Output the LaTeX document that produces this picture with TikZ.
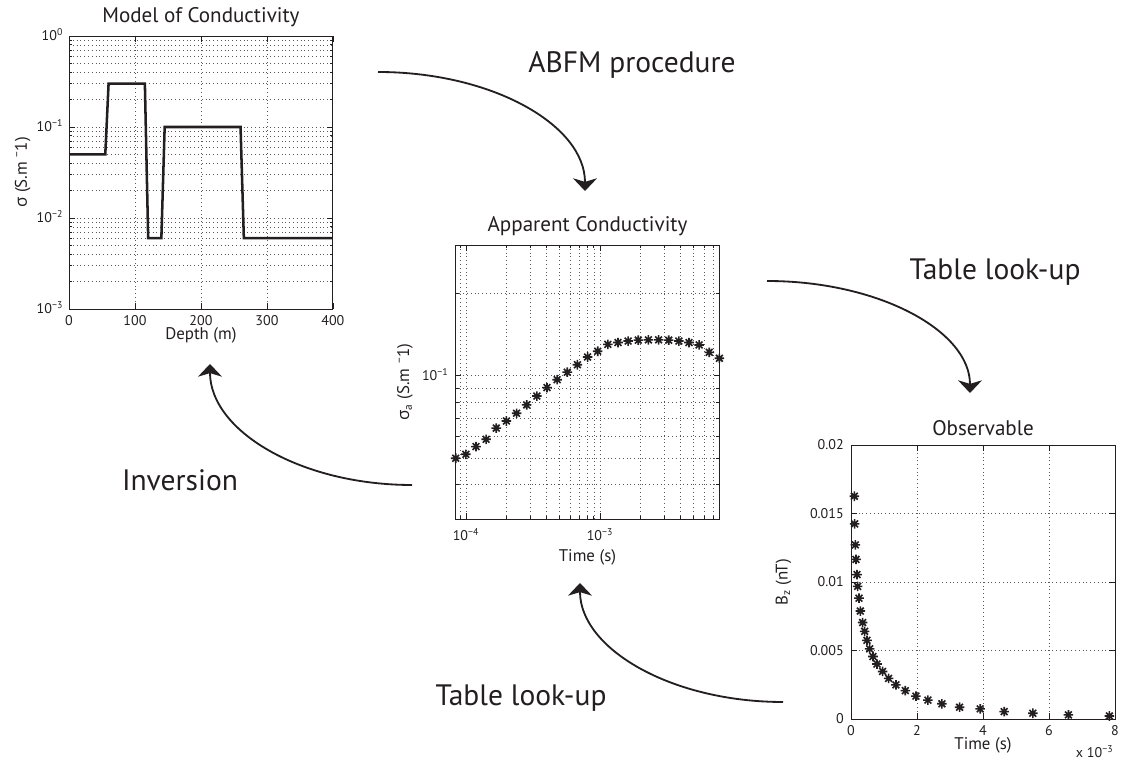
\documentclass[tikz,border=0pt]{standalone}
\usepackage{fontspec}
\setmainfont{PT Sans}
\newfontfamily\greekfont{Open Sans}
\usetikzlibrary{arrows.meta}

\definecolor{ink}{RGB}{35,31,32}
\newcommand{\sig}{{\greekfont σ}}

\tikzset{
  axbox/.style={draw=ink, line width=0.6pt},
  gridline/.style={ink!75, line width=0.4pt, dash pattern=on 0.4pt off 2.3pt},
  tickmark/.style={ink, line width=0.5pt},
  stepline/.style={ink, line width=1.8pt, line join=miter},
  flow/.style={ink, line width=1.3pt, -{Stealth[length=9pt, width=17pt, inset=2.5pt]}},
  ticklab/.style={text=ink, font=\fontsize{10}{12}\selectfont, inner sep=1pt},
  axlab/.style={text=ink, font=\fontsize{12}{14}\selectfont, inner sep=1pt},
  plottitle/.style={text=ink, font=\fontsize{15}{18}\selectfont, inner sep=1pt},
  steplab/.style={text=ink, font=\fontsize{21}{25}\selectfont},
  ast/.pic={\draw[ink, line width=1.15pt] (-3.4pt,0) -- (3.4pt,0) (0,-3.4pt) -- (0,3.4pt)
    (-2.4pt,-2.4pt) -- (2.4pt,2.4pt) (-2.4pt,2.4pt) -- (2.4pt,-2.4pt);}
}

\begin{document}
\begin{tikzpicture}
\useasboundingbox (0,0) rectangle (28.1,19.175);

% model of conductivity (depth, log10 sigma + 3)
\begin{scope}[shift={(1.725,11.45)}, x=0.0165cm, y=2.275cm]
\foreach \d in {0,1,2} \foreach \k in {2,...,9} \draw[gridline] (0,{\d+log10(\k)}) -- (400,{\d+log10(\k)});
\foreach \d in {1,2} \draw[gridline] (0,\d) -- (400,\d);
\foreach \x in {100,200,300} \draw[gridline] (\x,0) -- (\x,3);
\draw[stepline] (0,1.699) -- (55,1.699) -- (60,2.477) -- (115,2.477) -- (120,0.778) -- (140,0.778)
  -- (145,2) -- (260,2) -- (265,0.778) -- (400,0.778);
\draw[axbox] (0,0) rectangle (400,3);
\foreach \x in {0,100,...,400} {
  \draw[tickmark] (\x,0) -- ++(0,4pt) (\x,3) -- ++(0,-4pt);
  \node[ticklab, below=3.5pt] (mx\x) at (\x,0) {\x};
}
\foreach \d in {0,1,2} \foreach \k in {2,...,9} \draw[tickmark] (0,{\d+log10(\k)}) -- ++(2pt,0) (400,{\d+log10(\k)}) -- ++(-2pt,0);
\foreach \d/\e in {0/−3,1/−2,2/−1,3/0} {
  \draw[tickmark] (0,\d) -- ++(4pt,0) (400,\d) -- ++(-4pt,0);
  \node[ticklab, left=3pt] (my\d) at (0,\d) {10\smash{\textsuperscript{\e}}};
}
\node[axlab, below=12pt] (mxlab) at (200,0) {Depth (m)};
\node[axlab, xshift=-33pt, rotate=90] (mylab) at (0,1.5) {\sig{} (S.m \textsuperscript{−}1)};
\node[plottitle, above=5.5pt] (mtitle) at (200,3) {Model of Conductivity};
\end{scope}

% apparent conductivity (log10 t + 4, log10 sigma_a + 1)
\begin{scope}[shift={(11.65,9.7825)}, x=3.35cm, y=6.85cm]
\foreach \x in {-0.0458,0,0.301,0.477,0.602,0.699,0.778,0.845,0.903,0.954,1,1.301,1.477,1.602,1.699,1.778,1.845}
  \draw[gridline] (\x,-0.5229) -- (\x,0.4771);
\foreach \y in {-0.3979,-0.3010,-0.2218,-0.1549,-0.0969,-0.0458,0,0.3010}
  \draw[gridline] (-0.0769,\y) -- (1.890,\y);
\foreach \s [count=\i from 0] in {0.0499,0.0516,0.0551,0.0586,0.0627,0.0670,0.0719,0.0775,0.0838,
  0.0902,0.0965,0.1029,0.1096,0.1170,0.1228,0.1269,0.1291,0.1309,0.1320,0.1324,0.1324,0.1320,
  0.1309,0.1291,0.1262,0.1217,0.1157}
  \pic at ({-0.0769+0.0757*\i},{log10(\s)+1}) {ast};
\draw[axbox] (-0.0769,-0.5229) rectangle (1.890,0.4771);
\foreach \x in {-0.0458,0.301,0.477,0.602,0.699,0.778,0.845,0.903,0.954,1.301,1.477,1.602,1.699,1.778,1.845}
  \draw[tickmark] (\x,-0.5229) -- ++(0,2pt) (\x,0.4771) -- ++(0,-2pt);
\foreach \x/\e in {0/−4,1/−3} {
  \draw[tickmark] (\x,-0.5229) -- ++(0,4pt) (\x,0.4771) -- ++(0,-4pt);
  \node[ticklab, below=5.5pt] (ax\x) at (\x,-0.5229) {10\textsuperscript{\e}};
}
\foreach \y in {-0.3979,-0.3010,-0.2218,-0.1549,-0.0969,-0.0458,0.3010}
  \draw[tickmark] (-0.0769,\y) -- ++(2pt,0) (1.890,\y) -- ++(-2pt,0);
\draw[tickmark] (-0.0769,0) -- ++(4pt,0) (1.890,0) -- ++(-4pt,0);
\node[ticklab, left=4pt] (ay) at (-0.0769,0) {10\smash{\textsuperscript{−1}}};
\node[axlab, below=20.5pt] (axlab) at (0.9066,-0.5229) {Time (s)};
\node[axlab, xshift=-36pt, rotate=90] (aylab) at (-0.0769,-0.0229) {\sig\textsubscript{a} (S.m \textsuperscript{−}1)};
\node[plottitle, above=5.5pt] (atitle) at (0.9066,0.4771) {Apparent Conductivity};
\end{scope}

% observable (t in 1e-3 s, Bz in 1e-3 nT)
\begin{scope}[shift={(21.275,1.2)}, x=0.825cm, y=0.3425cm]
\foreach \x in {2,4,6} \draw[gridline] (\x,0) -- (\x,20);
\foreach \y in {5,10,15} \draw[gridline] (0,\y) -- (8,\y);
\foreach \t/\b in {0.101/16.26,0.111/14.24,0.131/12.71,0.151/11.65,0.182/10.54,0.202/9.68,0.242/8.82,
  0.283/7.88,0.353/7.04,0.414/6.40,0.484/5.74,0.565/5.12,0.666/4.56,0.787/4.01,0.959/3.47,1.140/2.96,
  1.362/2.49,1.645/2.07,1.968/1.67,2.331/1.38,2.755/1.11,3.290/0.86,3.915/0.74,4.642/0.54,5.510/0.42,
  6.589/0.30,7.830/0.22}
  \pic at (\t,\b) {ast};
\draw[axbox] (0,0) rectangle (8,20);
\foreach \x in {0,2,...,8} {
  \draw[tickmark] (\x,0) -- ++(0,4pt) (\x,20) -- ++(0,-4pt);
  \node[ticklab, below=3.5pt] (ox\x) at (\x,0) {\x};
}
\foreach \y/\v in {0/0,5/0.005,10/0.01,15/0.015,20/0.02} {
  \draw[tickmark] (0,\y) -- ++(4pt,0) (8,\y) -- ++(-4pt,0);
  \node[ticklab, left=4pt] (oy\y) at (0,\y) {\v};
}
\node[ticklab, anchor=north east, yshift=-18pt] (oexp) at (8,0) {x 10\textsuperscript{−3}};
\node[axlab, below=12pt] (oxlab) at (4,0) {Time (s)};
\node[axlab, xshift=-48pt, rotate=90] (oylab) at (0,10) {B\textsubscript{z} (nT)};
\node[plottitle, above=5.5pt] (otitle) at (4,20) {Observable};
\end{scope}

% steps between the plots
\coordinate (abfm-s) at (9.45,17.375);
\coordinate (abfm-e) at (14.625,14.4);
\coordinate (look1-s) at (19.175,12.15);
\coordinate (look1-e) at (24.25,9.35);
\coordinate (inv-s) at (10.3,7.05);
\coordinate (inv-e) at (5.25,10.075);
\coordinate (look2-s) at (19.575,1.625);
\coordinate (look2-e) at (14.5,4.6);

\draw[flow] (abfm-s) .. controls +(2.85,0) and +(0,1.65) .. (abfm-e);
\draw[flow] (look1-s) .. controls +(2.8,0) and +(0,1.55) .. (look1-e);
\draw[flow] (inv-s) .. controls +(-2.79,0) and +(0,-1.67) .. (inv-e);
\draw[flow] (look2-s) .. controls +(-2.8,0) and +(0,-1.64) .. (look2-e);

\node[steplab] (abfm) at (15.8,17.55) {ABFM procedure};
\node[steplab] (look1) at (24.875,12.375) {Table look-up};
\node[steplab] (inv) at (4.5,7.175) {Inversion};
\node[steplab] (look2) at (13.025,1.725) {Table look-up};
\end{tikzpicture}
\end{document}
